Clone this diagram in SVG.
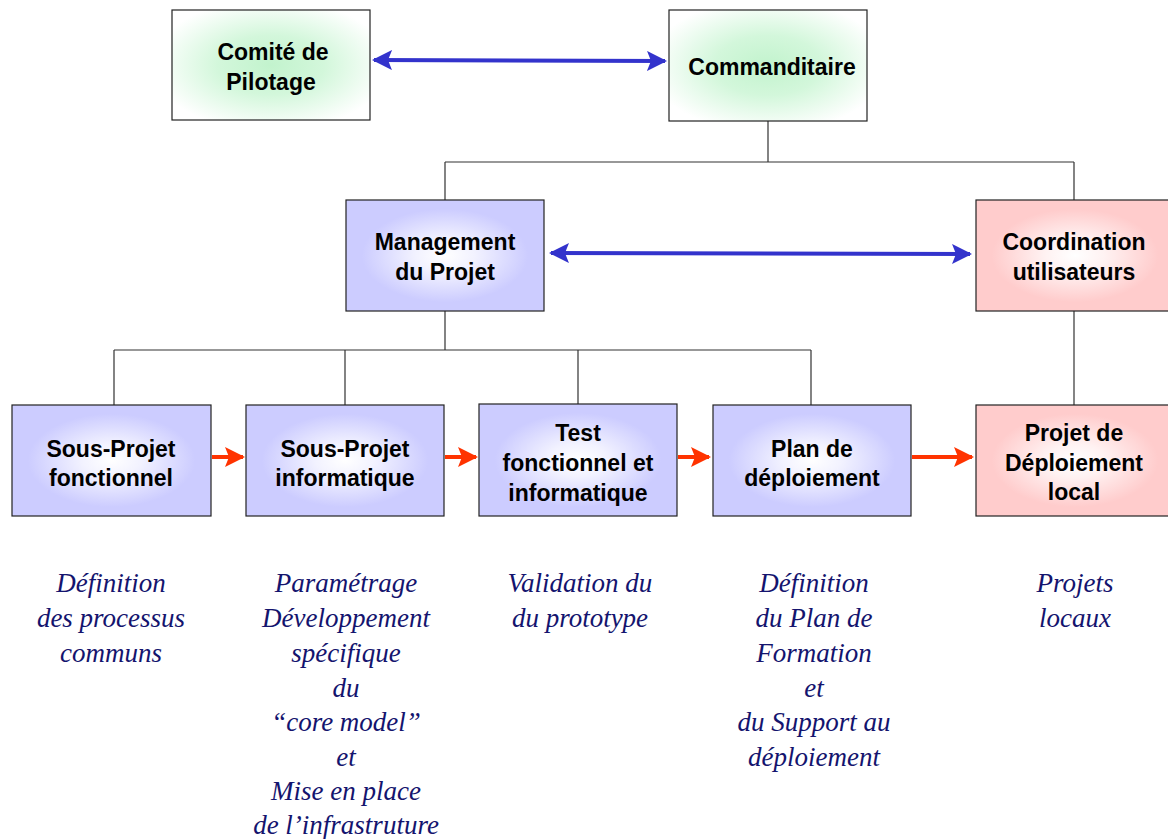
<svg xmlns="http://www.w3.org/2000/svg" width="1168" height="839" viewBox="0 0 1168 839">
  <defs>
    <radialGradient id="gGreen" cx="0.5" cy="0.5" r="0.6">
      <stop offset="0" stop-color="#c2f3cd"/>
      <stop offset="0.45" stop-color="#d3f7db"/>
      <stop offset="1" stop-color="#ffffff"/>
    </radialGradient>
    <radialGradient id="gBlue" cx="0.5" cy="0.5" r="0.6">
      <stop offset="0" stop-color="#ffffff"/>
      <stop offset="0.25" stop-color="#f2f2ff"/>
      <stop offset="0.7" stop-color="#ccccff"/>
      <stop offset="1" stop-color="#ccccff"/>
    </radialGradient>
    <radialGradient id="gPink" cx="0.5" cy="0.5" r="0.6">
      <stop offset="0" stop-color="#ffffff"/>
      <stop offset="0.25" stop-color="#fff2f2"/>
      <stop offset="0.7" stop-color="#ffcccc"/>
      <stop offset="1" stop-color="#ffcccc"/>
    </radialGradient>
    <marker id="blueHead" viewBox="0 0 10 10" refX="9" refY="5" markerWidth="5" markerHeight="5" orient="auto-start-reverse" markerUnits="strokeWidth">
      <path d="M0,0 L10,5 L0,10 L2,5 z" fill="#3333cc"/>
    </marker>
    <marker id="redHead" viewBox="0 0 10 10" refX="9" refY="5" markerWidth="5" markerHeight="5" orient="auto" markerUnits="strokeWidth">
      <path d="M0,0 L10,5 L0,10 L2,5 z" fill="#ff3300"/>
    </marker>
  </defs>
  <style>
    .box { stroke: #222222; stroke-width: 1.2; }
    .lbl { font-family: "Liberation Sans", Arial, sans-serif; font-weight: bold; font-size: 23px; fill: #000000; text-anchor: middle; }
    .note { font-family: "Liberation Serif", "Times New Roman", serif; font-style: italic; font-size: 27px; fill: #14146e; text-anchor: middle; }
    .tree { stroke: #333333; stroke-width: 1.2; fill: none; }
    .blue { stroke: #3333cc; stroke-width: 4; fill: none; marker-start: url(#blueHead); marker-end: url(#blueHead); }
    .red { stroke: #ff3300; stroke-width: 4; fill: none; marker-end: url(#redHead); }
  </style>

  <rect width="1168" height="839" fill="#ffffff"/>

  <!-- connectors -->
  <g id="connectors">
    <path class="tree" d="M768,121 V162 M445,162 H1074 M445,162 V200 M1074,162 V200"/>
    <path class="tree" d="M445,311 V350 M114,350 H811 M114,350 V405 M345,350 V405 M578,350 V404 M811,350 V405"/>
    <path class="tree" d="M1074,311 V405"/>
    <line class="blue" x1="374" y1="60" x2="665" y2="61"/>
    <line class="blue" x1="551" y1="253" x2="970" y2="254"/>
    <line class="red" x1="212" y1="457" x2="243" y2="457"/>
    <line class="red" x1="445" y1="457" x2="476" y2="457"/>
    <line class="red" x1="678" y1="457" x2="709" y2="457"/>
    <line class="red" x1="912" y1="457" x2="972" y2="457"/>
  </g>

  <!-- top level -->
  <g id="comite">
    <rect class="box" x="172" y="10" width="198" height="110" fill="url(#gGreen)"/>
    <text class="lbl" x="273" y="60">Comité de</text>
    <text class="lbl" x="271" y="90">Pilotage</text>
  </g>
  <g id="commanditaire">
    <rect class="box" x="669" y="10" width="198" height="111" fill="url(#gGreen)"/>
    <text class="lbl" x="772" y="75">Commanditaire</text>
  </g>

  <!-- second level -->
  <g id="management">
    <rect class="box" x="346" y="200" width="198" height="111" fill="url(#gBlue)"/>
    <text class="lbl" x="445" y="250">Management</text>
    <text class="lbl" x="445" y="280">du Projet</text>
  </g>
  <g id="coordination">
    <rect class="box" x="976" y="200" width="198" height="111" fill="url(#gPink)"/>
    <text class="lbl" x="1074" y="250">Coordination</text>
    <text class="lbl" x="1074" y="280">utilisateurs</text>
  </g>

  <!-- third level -->
  <g id="sp-fonctionnel">
    <rect class="box" x="12" y="405" width="199" height="111" fill="url(#gBlue)"/>
    <text class="lbl" x="111" y="457">Sous-Projet</text>
    <text class="lbl" x="111" y="486">fonctionnel</text>
  </g>
  <g id="sp-informatique">
    <rect class="box" x="246" y="405" width="198" height="111" fill="url(#gBlue)"/>
    <text class="lbl" x="345" y="457">Sous-Projet</text>
    <text class="lbl" x="345" y="486">informatique</text>
  </g>
  <g id="test">
    <rect class="box" x="479" y="404" width="198" height="112" fill="url(#gBlue)"/>
    <text class="lbl" x="578" y="441">Test</text>
    <text class="lbl" x="578" y="471">fonctionnel et</text>
    <text class="lbl" x="578" y="501">informatique</text>
  </g>
  <g id="plan">
    <rect class="box" x="713" y="405" width="198" height="111" fill="url(#gBlue)"/>
    <text class="lbl" x="812" y="457">Plan de</text>
    <text class="lbl" x="812" y="486">déploiement</text>
  </g>
  <g id="projet-local">
    <rect class="box" x="976" y="405" width="198" height="111" fill="url(#gPink)"/>
    <text class="lbl" x="1074" y="441">Projet de</text>
    <text class="lbl" x="1074" y="471">Déploiement</text>
    <text class="lbl" x="1074" y="500">local</text>
  </g>

  <!-- descriptions -->
  <g id="notes">
    <text class="note" x="111" y="592">Définition</text>
    <text class="note" x="111" y="627">des processus</text>
    <text class="note" x="111" y="662">communs</text>

    <text class="note" x="346" y="592">Paramétrage</text>
    <text class="note" x="346" y="627">Développement</text>
    <text class="note" x="346" y="662">spécifique</text>
    <text class="note" x="346" y="697">du</text>
    <text class="note" x="346" y="731">“core model”</text>
    <text class="note" x="346" y="766">et</text>
    <text class="note" x="346" y="800">Mise en place</text>
    <text class="note" x="346" y="834">de l’infrastruture</text>

    <text class="note" x="580" y="592">Validation du</text>
    <text class="note" x="580" y="627">du prototype</text>

    <text class="note" x="814" y="592">Définition</text>
    <text class="note" x="814" y="627">du Plan de</text>
    <text class="note" x="814" y="662">Formation</text>
    <text class="note" x="814" y="697">et</text>
    <text class="note" x="814" y="731">du Support au</text>
    <text class="note" x="814" y="766">déploiement</text>

    <text class="note" x="1075" y="592">Projets</text>
    <text class="note" x="1075" y="627">locaux</text>
  </g>
</svg>
